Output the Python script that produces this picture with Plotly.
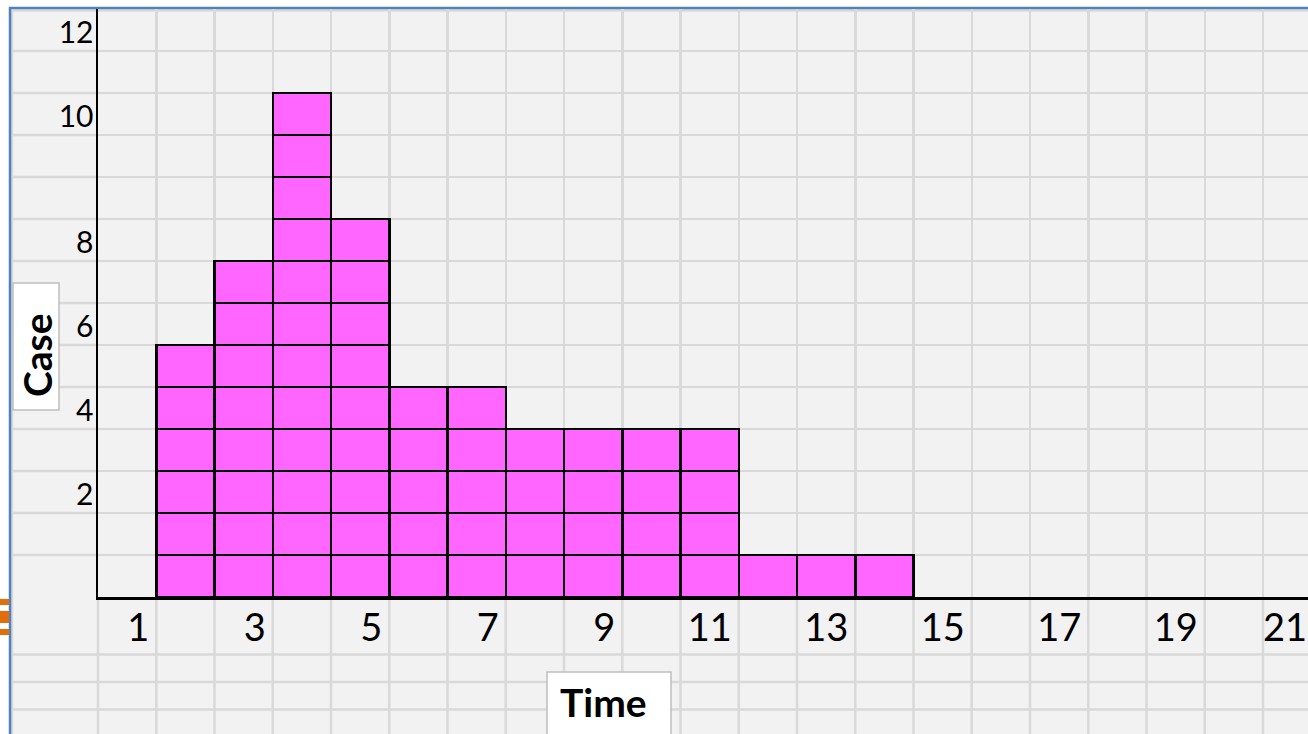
import plotly.graph_objects as go

# ---------------- data ----------------
times = list(range(1, 22))
cases = [0, 6, 8, 12, 9, 5, 5, 4, 4, 4, 4, 1, 1, 1, 0, 0, 0, 0, 0, 0, 0]
x_tick_times = [1, 3, 5, 7, 9, 11, 13, 15, 17, 19, 21]
x_tick_labels = ["1", "3", "5", "7", "9", "11", "13", "15", "17", "19", "21"]
y_tick_rows = [2, 4, 6, 8, 11, 13]
y_tick_labels = ["2", "4", "6", "8", "10", "12"]
x_title = "Time"
y_title = "Case"

# ---------------- geometry ----------------
W, H = 1308, 734
L, T, B, R = 98, 9, 137, 0
plot_w = W - L - R
plot_h = H - T - B
col_w = 58.25
row_h = 42.0
x_lo = 0.5
x_hi = x_lo + plot_w / col_w
y_hi = plot_h / row_h
X_FONT = 38
DIGIT_W = 0.58 * X_FONT

def px_x(p):
    return (p - L) / plot_w

def px_y(p):
    return (H - B - p) / plot_h

FILL = "#FF66FF"
GRID = "#D9D9D9"
SHEET = "#F2F2F2"
BLUE = "#4F81BD"
ORANGE = "#E46C0A"
BOXLINE = "#BFBFBF"
FONT = "Lato, 'Open Sans', sans-serif"

fig = go.Figure()
for level in range(1, max(cases) + 1):
    fig.add_trace(go.Bar(
        x=times,
        y=[1 if c >= level else None for c in cases],
        width=1,
        marker=dict(color=FILL, line=dict(color="black", width=2.5)),
        hoverinfo="skip",
        showlegend=False,
    ))

shapes = []
# spreadsheet background
shapes.append(dict(type="rect", xref="paper", yref="paper", x0=px_x(10), x1=px_x(W),
                   y0=px_y(8), y1=px_y(H), fillcolor=SHEET, line=dict(width=0), layer="below"))
# header edge lines
shapes.append(dict(type="line", xref="paper", yref="paper", x0=px_x(12), x1=px_x(12),
                   y0=px_y(10), y1=px_y(H), line=dict(color=GRID, width=2.5), layer="below"))
shapes.append(dict(type="line", xref="paper", yref="paper", x0=px_x(12), x1=px_x(W),
                   y0=px_y(10.5), y1=px_y(10.5), line=dict(color=GRID, width=2.5), layer="below"))
# row lines in left column
for k in range(1, int(round(y_hi))):
    shapes.append(dict(type="line", xref="paper", yref="y", x0=px_x(12), x1=0,
                       y0=k, y1=k, line=dict(color=GRID, width=2.5), layer="below"))
# column lines below the axis
shapes.append(dict(type="line", xref="paper", yref="paper", x0=0, x1=0,
                   y0=0, y1=px_y(H), line=dict(color=GRID, width=2.5), layer="below"))
for k in range(1, 22):
    shapes.append(dict(type="line", xref="x", yref="paper", x0=k + 0.5, x1=k + 0.5,
                       y0=0, y1=px_y(H), line=dict(color=GRID, width=2.5), layer="below"))
# row lines below the axis
for p in [654.5, 682, 709.5]:
    shapes.append(dict(type="line", xref="paper", yref="paper", x0=px_x(12), x1=px_x(W),
                       y0=px_y(p), y1=px_y(p), line=dict(color=GRID, width=2.5), layer="below"))
# blue sheet border
shapes.append(dict(type="line", xref="paper", yref="paper", x0=px_x(10), x1=px_x(10),
                   y0=px_y(7), y1=px_y(H), line=dict(color=BLUE, width=2.5), layer="below"))
shapes.append(dict(type="line", xref="paper", yref="paper", x0=px_x(9), x1=px_x(W),
                   y0=px_y(8), y1=px_y(8), line=dict(color=BLUE, width=2.5), layer="below"))
# orange handles
for a, b in [(599, 605), (611, 623), (629, 635)]:
    shapes.append(dict(type="rect", xref="paper", yref="paper", x0=px_x(0), x1=px_x(9),
                       y0=px_y(b), y1=px_y(a), fillcolor=ORANGE, line=dict(width=0), layer="below"))
# y title box
shapes.append(dict(type="rect", xref="paper", yref="paper", x0=px_x(13), x1=px_x(59),
                   y0=px_y(410), y1=px_y(283), fillcolor="white",
                   line=dict(color=BOXLINE, width=1.5), layer="above"))
# x title box (runs off the bottom edge: no bottom border)
bx0, bx1, by0, by1 = px_x(547), px_x(671), px_y(672), px_y(H)
shapes.append(dict(type="rect", xref="paper", yref="paper", x0=bx0, x1=bx1,
                   y0=by1, y1=by0, fillcolor="white", line=dict(width=0), layer="above"))
shapes.append(dict(type="path", xref="paper", yref="paper",
                   path=f"M {bx0},{by1} L {bx0},{by0} L {bx1},{by0} L {bx1},{by1}",
                   line=dict(color=BOXLINE, width=1.5), layer="above"))

annotations = [
    dict(text=y_title, xref="paper", yref="paper", x=px_x(37), y=px_y(355),
         showarrow=False, textangle=-90, font=dict(family=FONT, size=39, color="black", weight="bold"),
         xanchor="center", yanchor="middle"),
    dict(text=x_title, xref="paper", yref="paper", x=px_x(603), y=px_y(702),
         showarrow=False, font=dict(family=FONT, size=39, color="black", weight="bold"),
         xanchor="center", yanchor="middle"),
]

# label centres: right-aligned in their column, but kept inside the page
x_tickvals = []
for t, s in zip(x_tick_times, x_tick_labels):
    half = DIGIT_W * len(s) / 2
    v = t + 0.5 - (7 + half) / col_w
    v_max = x_lo + (W - 1 - half - L) / col_w
    x_tickvals.append(min(v, v_max))
y_tickvals = [r + 0.43 for r in y_tick_rows]

fig.update_layout(
    width=W, height=H,
    margin=dict(l=L, r=R, t=T, b=B, pad=0),
    paper_bgcolor="white",
    plot_bgcolor=SHEET,
    barmode="stack",
    bargap=0,
    showlegend=False,
    shapes=shapes,
    annotations=annotations,
    xaxis=dict(
        range=[x_lo, x_hi], showline=True, linecolor="black", linewidth=2.5,
        showgrid=False, zeroline=False, ticks="",
        tickmode="array", tickvals=x_tickvals, ticktext=x_tick_labels,
        tickfont=dict(family=FONT, size=X_FONT, color="black"),
        ticklabelstandoff=-4, ticklabeloverflow="allow",
        minor=dict(tickmode="linear", tick0=0.5, dtick=1, showgrid=True,
                   gridcolor=GRID, gridwidth=2.5, ticks=""),
        fixedrange=True,
    ),
    yaxis=dict(
        range=[0, y_hi], showline=True, linecolor="black", linewidth=2.5,
        showgrid=False, zeroline=False, ticks="",
        tickmode="array", tickvals=y_tickvals, ticktext=y_tick_labels,
        tickfont=dict(family=FONT, size=30, color="black"),
        ticklabelstandoff=-4,
        minor=dict(tickmode="linear", tick0=0, dtick=1, showgrid=True,
                   gridcolor=GRID, gridwidth=2.5, ticks=""),
        fixedrange=True,
    ),
)

post = (
    "document.documentElement.style.margin='0';"
    "document.body.style.margin='0';"
    "document.body.style.overflow='hidden';"
)

fig.write_html("out.html", config={"displayModeBar": False, "staticPlot": True},
               post_script=post)
